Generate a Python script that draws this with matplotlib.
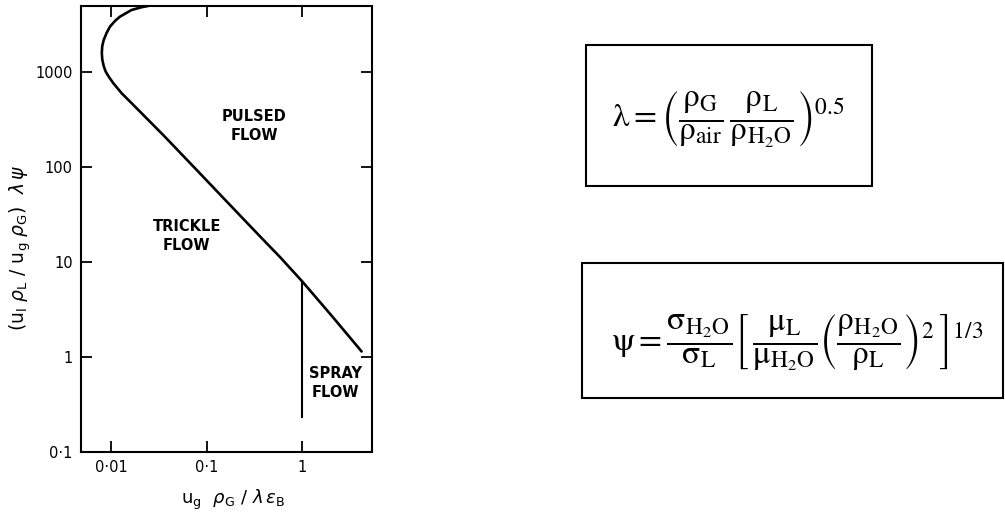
import matplotlib
matplotlib.use("Agg")
import matplotlib.pyplot as plt
from matplotlib.patches import Rectangle

# ---- data ----
boundary_x = [0.0244, 0.021, 0.0164, 0.0124, 0.0110, 0.00976, 0.0090, 0.0084, 0.0081,
              0.00802, 0.00812, 0.00840, 0.0088, 0.0095, 0.01057, 0.0129, 0.0158,
              0.0352, 0.0923, 0.149, 0.361, 0.585, 1.0, 2.0, 4.17]
boundary_y = [4890, 4755, 4440, 3776, 3400, 2966, 2550, 2150, 1850,
              1560, 1327, 1140, 1000, 880, 755, 593, 484,
              215, 78, 47, 18.5, 11.2, 6.2, 2.75, 1.14]
spray_x = [1.0, 1.0]
spray_y = [6.2, 0.236]

xticks = [0.01, 0.1, 1]
xticklabels = ["0\u00b701", "0\u00b71", "1"]
yticks = [0.1, 1, 10, 100, 1000]
yticklabels = ["0\u00b71", "1", "10", "100", "1000"]

regions = ["PULSED\nFLOW", "TRICKLE\nFLOW", "SPRAY\nFLOW"]
region_x = [0.312, 0.0618, 2.2]
region_y = [269, 18.7, 0.533]

xlim = (0.00486, 5.35)
ylim = (0.1, 4890)

W, H = 1005, 512
fig = plt.figure(figsize=(W / 100, H / 100), dpi=100)
ax = fig.add_axes([81 / W, 1 - 452 / H, 291 / W, 446 / H])
ax.set_xscale("log")
ax.set_yscale("log")
ax.set_xlim(*xlim)
ax.set_ylim(*ylim)

ax.plot(boundary_x, boundary_y, color="black", lw=1.9,
        solid_joinstyle="round", solid_capstyle="round")
ax.plot(spray_x, spray_y, color="black", lw=1.5)

ax.set_xticks(xticks)
ax.set_xticklabels(xticklabels)
ax.set_yticks(yticks)
ax.set_yticklabels(yticklabels)
ax.minorticks_off()
ax.tick_params(which="major", direction="in", length=8, width=1.3,
               top=True, right=True, labelsize=10.5, pad=6)
for s in ax.spines.values():
    s.set_linewidth(1.5)

for t, xx, yy in zip(regions, region_x, region_y):
    ax.text(xx, yy, t, ha="center", va="center", fontsize=10.5,
            linespacing=1.3, fontweight="bold")

fig.text(20 / W, 1 - 248 / H,
         r"$(\mathrm{u}_\mathrm{l}\ \rho_\mathrm{L}\ /\ \mathrm{u}_\mathrm{g}\ \rho_\mathrm{G})\ \ \lambda\,\psi$",
         rotation=90, ha="center", va="center", fontsize=13.5)
fig.text(233 / W, 1 - 504 / H,
         r"$\mathrm{u}_\mathrm{g}\ \ \rho_\mathrm{G}\ /\ \lambda\,\epsilon_\mathrm{B}$",
         ha="center", va="baseline", fontsize=13)

# equation boxes
def box(x0, y0, x1, y1):
    fig.add_artist(Rectangle((x0 / W, 1 - y1 / H), (x1 - x0) / W, (y1 - y0) / H,
                             transform=fig.transFigure, fill=False,
                             edgecolor="black", lw=1.5))

box(586, 45, 872, 186)
box(582, 263, 1003, 398)

fig.text(728 / W, 1 - 119 / H,
         r"$\mathrm{\lambda} = \left(\dfrac{\mathrm{\rho}_\mathrm{G}}{\mathrm{\rho}_\mathrm{air}}\,\dfrac{\mathrm{\rho}_\mathrm{L}}{\mathrm{\rho}_{\mathrm{H_2O}}}\right)^{0.5}$",
         ha="center", va="center", fontsize=24, math_fontfamily="stix")
fig.text(797 / W, 1 - 343 / H,
         r"$\mathrm{\psi} = \dfrac{\mathrm{\sigma}_{\mathrm{H_2O}}}{\mathrm{\sigma}_\mathrm{L}}\left[\,\dfrac{\mathrm{\mu}_\mathrm{L}}{\mathrm{\mu}_{\mathrm{H_2O}}}\left(\dfrac{\mathrm{\rho}_{\mathrm{H_2O}}}{\mathrm{\rho}_\mathrm{L}}\right)^2\,\right]^{1/3}$",
         ha="center", va="center", fontsize=24, math_fontfamily="stix")

fig.savefig("out.png", dpi=100)
